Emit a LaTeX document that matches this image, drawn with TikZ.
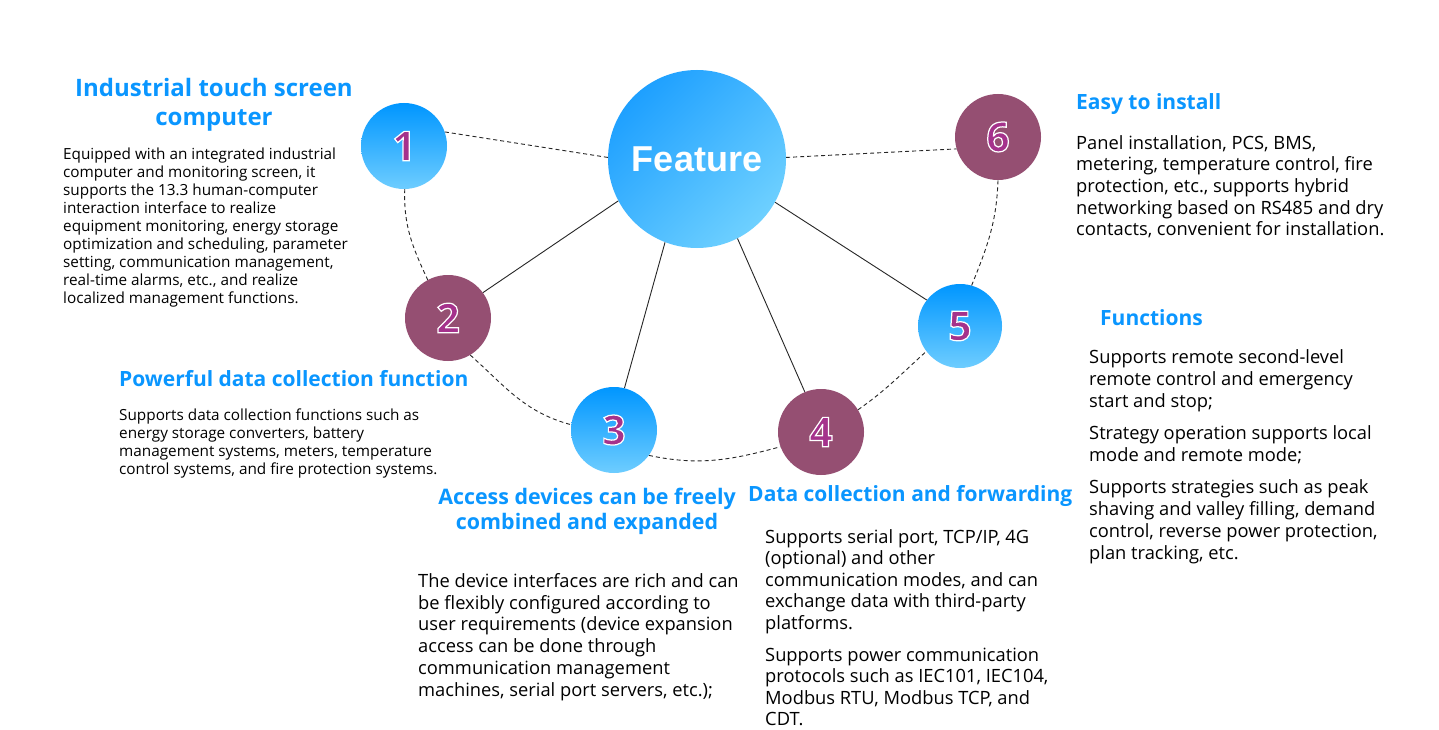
\documentclass[tikz,border=0pt]{standalone}
\usepackage{fontspec}
\setmainfont{Open Sans}
\newfontfamily\featfont{Liberation Sans}
\font\dgfont="Open Sans/B:embolden=3" at 41pt
\definecolor{headblue}{RGB}{10,150,255}
\definecolor{cTop}{RGB}{0,150,255}
\definecolor{cBot}{RGB}{110,205,255}
\definecolor{fDark}{RGB}{30,160,255}
\definecolor{fLight}{RGB}{110,208,255}
\definecolor{cPur}{RGB}{149,79,114}
\definecolor{dPur}{RGB}{165,50,140}
\newcommand\digitglyph[1]{{\dgfont\color{dPur}\special{pdf:code 1 1 1 RG}#1}}
\tikzset{
  bluec/.style={circle, minimum size=86, inner sep=0, top color=cTop, bottom color=cBot, draw=none},
  purc/.style={circle, minimum size=86, inner sep=0, fill=cPur, draw=none},
  digitsty/.style={inner sep=0},
  heading/.style={font=\fontsize{21}{25}\selectfont\bfseries, text=headblue, inner sep=0},
  bodytxt/.style={anchor=north west, align=left, inner sep=0},
  dashline/.style={dash pattern=on 4pt off 3pt, line width=0.9pt, black!85},
  solidline/.style={line width=0.9pt, black!85},
}
\begin{document}
\begin{tikzpicture}[x=1pt,y=1pt]
\useasboundingbox (0,0) rectangle (1439,-730);
\fill[white] (0,0) rectangle (1439,-730);

% circles
\node[circle, minimum size=178, inner sep=0, top color=fDark, bottom color=fLight, shading angle=45] (feat) at (697,-159) {};
\node[font=\featfont\fontsize{36}{36}\selectfont\bfseries, text=white, inner sep=0] (feattxt) at (697,-159) {Feature};
\node[bluec] (n1) at (404,-146) {};
\node[purc] (n2) at (448,-318) {};
\node[bluec] (n3) at (614,-430) {};
\node[purc] (n4) at (821,-432) {};
\node[bluec, minimum size=84] (n5) at (960,-326) {};
\node[purc] (n6) at (998,-137) {};

\node[digitsty] (d1) at (n1) {\digitglyph{1}};
\node[digitsty] (d2) at (n2) {\digitglyph{2}};
\node[digitsty] (d3) at (n3) {\digitglyph{3}};
\node[digitsty] (d4) at (n4) {\digitglyph{4}};
\node[digitsty] (d5) at (n5) {\digitglyph{5}};
\node[digitsty] (d6) at (n6) {\digitglyph{6}};

% connectors
\draw[dashline] (n1.19) -- (feat.179);
\draw[dashline] (feat.1) -- (n6.196);
\draw[solidline] (feat.208) -- (n2.36);
\draw[solidline] (feat.249) -- (n3.76);
\draw[solidline] (feat.297) -- (n4.112);
\draw[solidline] (feat.331) -- (n5.142);
\draw[dashline] (n1.271) to[out=268,in=115] (n2.118);
\draw[dashline] (n2.301) to[out=318,in=165] (n3.173);
\draw[dashline] (n3.324) to[out=348,in=195] (n4.200);
\draw[dashline] (n4.31) to[out=35,in=222] (n5.217);
\draw[dashline] (n5.74) to[out=68,in=268] (n6.270);

% headings
\node[heading, font=\fontsize{24}{29}\selectfont\bfseries, align=center] (h1) at (214,-105) {Industrial touch screen\\computer};
\node[heading, anchor=west] (h2) at (119,-379) {Powerful data collection function};
\node[heading, font=\fontsize{21.4}{25}\selectfont\bfseries, align=center] (h3) at (587,-511) {Access devices can be freely\\combined and expanded};
\node[heading, anchor=west] (h4) at (748,-496) {Data collection and forwarding};
\node[heading, anchor=west] (h5) at (1100,-318) {Functions};
\node[heading, anchor=west] (h6) at (1076,-104) {Easy to install};

% body texts
\node[bodytxt, font=\fontsize{15.3}{18}\selectfont] (b1) at (63,-148) {Equipped with an integrated industrial\\computer and monitoring screen, it\\supports the 13.3 human-computer\\interaction interface to realize\\equipment monitoring, energy storage\\optimization and scheduling, parameter\\setting, communication management,\\real-time alarms, etc., and realize\\localized management functions.};
\node[bodytxt, font=\fontsize{15.3}{18}\selectfont] (b2) at (119,-409) {Supports data collection functions such as\\energy storage converters, battery\\management systems, meters, temperature\\control systems, and fire protection systems.};
\node[bodytxt, font=\fontsize{18.3}{21.8}\selectfont] (b3) at (418,-573) {The device interfaces are rich and can\\be flexibly configured according to\\user requirements (device expansion\\access can be done through\\communication management\\machines, serial port servers, etc.);};
\node[bodytxt, font=\fontsize{18.3}{21.6}\selectfont] (b4) at (765,-529) {Supports serial port, TCP/IP, 4G\\(optional) and other\\communication modes, and can\\exchange data with third-party\\platforms.\\[10pt]Supports power communication\\protocols such as IEC101, IEC104,\\Modbus RTU, Modbus TCP, and\\CDT.};
\node[bodytxt, font=\fontsize{18.3}{22}\selectfont] (b5) at (1089,-349) {Supports remote second-level\\remote control and emergency\\start and stop;\\[10pt]Strategy operation supports local\\mode and remote mode;\\[10pt]Supports strategies such as peak\\shaving and valley filling, demand\\control, reverse power protection,\\plan tracking, etc.};
\node[bodytxt, font=\fontsize{18.3}{21.7}\selectfont] (b6) at (1076,-135) {Panel installation, PCS, BMS,\\metering, temperature control, fire\\protection, etc., supports hybrid\\networking based on RS485 and dry\\contacts, convenient for installation.};
\end{tikzpicture}
\end{document}
